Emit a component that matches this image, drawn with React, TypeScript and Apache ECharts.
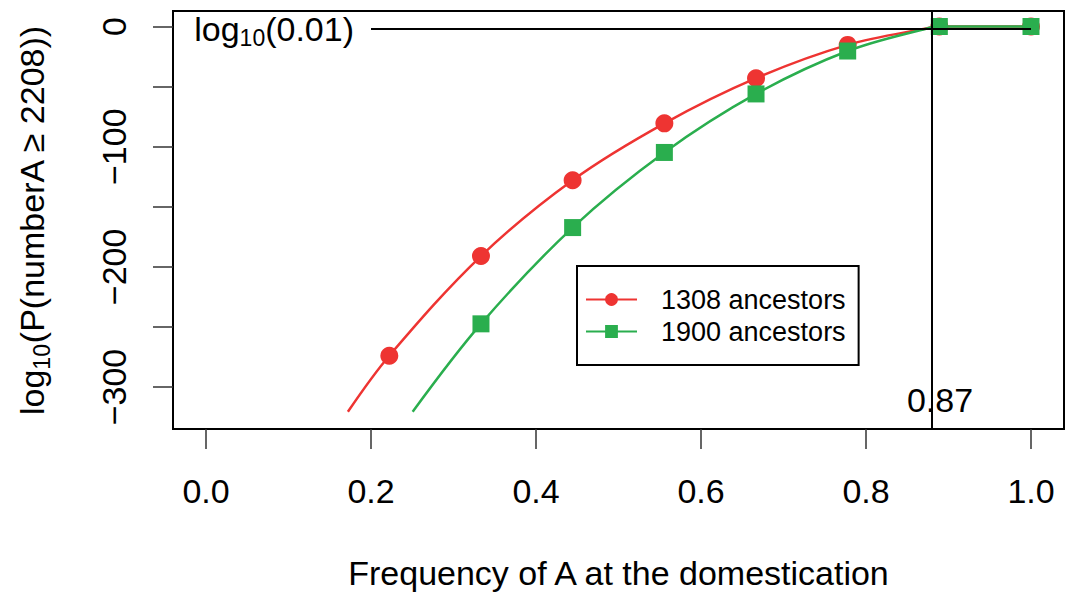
import React, { useEffect, useRef } from "react";
import * as echarts from "echarts";

// ---- data ----
const redX = [0.172, 0.2222, 0.3333, 0.4444, 0.5556, 0.6667, 0.7778, 0.877, 0.8889, 1.0];
const redY = [-320.5, -273.9, -191.0, -127.9, -80.6, -43.0, -15.3, -1, 0, 0];
const redMarker = [false, true, true, true, true, true, true, false, true, true];

const greenX = [0.2505, 0.3333, 0.4444, 0.5556, 0.6667, 0.7778, 0.877, 0.8889, 1.0];
const greenY = [-320.5, -247.4, -167.3, -104.8, -56.1, -20.4, -1, 0, 0];
const greenMarker = [false, true, true, true, true, true, false, true, true];

const seriesNames = ["1308 ancestors", "1900 ancestors"];
const xTicks = [0, 0.2, 0.4, 0.6, 0.8, 1.0];
const yTicks = [0, -50, -100, -150, -200, -250, -300];
const yLabels = [0, -100, -200, -300];
const thresholdY = -2; // log10(0.01)
const thresholdLineStartX = 0.2;
const thresholdLineEndX = 1.0;
const cutoffX = 0.877; // labelled 0.87
const cutoffLabel = "0.87";

const FONT = "'Liberation Sans', Arial, Helvetica, sans-serif";
const RED = "#ee3432";
const GREEN = "#2aae4e";

const richSub = {
  a: { fontSize: 34, fontFamily: FONT, color: "#000", lineHeight: 42 },
  s: { fontSize: 23, fontFamily: FONT, color: "#000", verticalAlign: "bottom", lineHeight: 23 },
};

function buildData(xs: number[], ys: number[], marks: boolean[]) {
  return xs.map((x, i) =>
    marks[i] ? { value: [x, ys[i]] } : { value: [x, ys[i]], symbol: "none" }
  );
}

export default function App() {
  const ref = useRef<HTMLDivElement>(null);
  useEffect(() => {
    if (!ref.current) return;
    const chart = echarts.init(ref.current, null, { renderer: "svg" });
    const option: any = {
      animation: false,
      backgroundColor: "#ffffff",
      textStyle: { fontFamily: FONT },
      grid: {
        left: 173,
        top: 11,
        right: 3,
        bottom: 166,
        show: true,
        borderColor: "#000",
        borderWidth: 2,
        backgroundColor: "transparent",
      },
      legend: {
        orient: "vertical",
        left: 577,
        top: 266,
        padding: [20, 13, 20, 8],
        itemGap: 5,
        itemWidth: 51,
        itemHeight: 16,
        borderColor: "#000",
        borderWidth: 2,
        data: seriesNames,
        textStyle: {
          fontSize: 27,
          color: "#000",
          fontFamily: FONT,
          padding: [0, 0, 0, 19],
        },
      },
      xAxis: {
        type: "value",
        min: -0.04,
        max: 1.04,
        name: "Frequency of A at the domestication",
        nameLocation: "middle",
        nameGap: 127,
        nameTextStyle: { fontSize: 34, color: "#000", fontFamily: FONT },
        axisLine: { show: false, onZero: false },
        splitLine: { show: false },
        axisTick: {
          show: true,
          inside: false,
          length: 20,
          customValues: xTicks,
          lineStyle: { color: "#333", width: 1.5 },
        },
        axisLabel: {
          customValues: xTicks,
          margin: 45,
          fontSize: 34,
          color: "#000",
          fontFamily: FONT,
          formatter: (v: number) => v.toFixed(1),
        },
      },
      yAxis: {
        type: "value",
        min: -334.9,
        max: 12.9,
        name: "{a|log}{s|10}{a|(P(numberA \u2265 2208))}",
        nameLocation: "middle",
        nameRotate: 90,
        nameGap: 120,
        nameTextStyle: {
          fontSize: 34,
          color: "#000",
          fontFamily: FONT,
          rich: richSub,
        },
        axisLine: { show: false, onZero: false },
        splitLine: { show: false },
        axisTick: {
          show: true,
          inside: false,
          length: 20,
          customValues: yTicks,
          lineStyle: { color: "#333", width: 1.5 },
        },
        axisLabel: {
          customValues: yLabels,
          rotate: 90,
          margin: 42,
          fontSize: 34,
          color: "#000",
          fontFamily: FONT,
          formatter: (v: number) => (v === 0 ? "0" : "\u2212" + Math.abs(v)),
        },
      },
      series: [
        {
          name: seriesNames[0],
          type: "line",
          smooth: 0.35,
          symbol: "circle",
          symbolSize: 18,
          color: RED,
          lineStyle: { color: RED, width: 2.5 },
          itemStyle: { color: RED },
          data: buildData(redX, redY, redMarker),
          z: 2,
        },
        {
          name: seriesNames[1],
          type: "line",
          smooth: 0.35,
          symbol: "rect",
          symbolSize: 17,
          color: GREEN,
          lineStyle: { color: GREEN, width: 2.5 },
          itemStyle: { color: GREEN },
          data: buildData(greenX, greenY, greenMarker),
          z: 3,
          markLine: {
            silent: true,
            symbol: ["none", "none"],
            lineStyle: { color: "#000", width: 2, type: "solid" },
            data: [
              [
                {
                  coord: [thresholdLineStartX, thresholdY],
                  label: {
                    show: true,
                    position: "start",
                    distance: 17,
                    formatter: "{a|log}{s|10}{a|(0.01)}",
                    rich: richSub,
                  },
                },
                { coord: [thresholdLineEndX, thresholdY] },
              ],
              {
                xAxis: cutoffX,
                label: {
                  show: true,
                  position: "start",
                  distance: -46,
                  formatter: cutoffLabel,
                  fontSize: 34,
                  fontFamily: FONT,
                  color: "#000",
                  padding: [0, 0, 0, 16],
                },
              },
            ],
          },
        },
      ],
    };
    chart.setOption(option);
    return () => chart.dispose();
  }, []);
  return (
    <div
      ref={ref}
      style={{ position: "absolute", left: 0, top: 0, width: 1067, height: 595 }}
    />
  );
}
